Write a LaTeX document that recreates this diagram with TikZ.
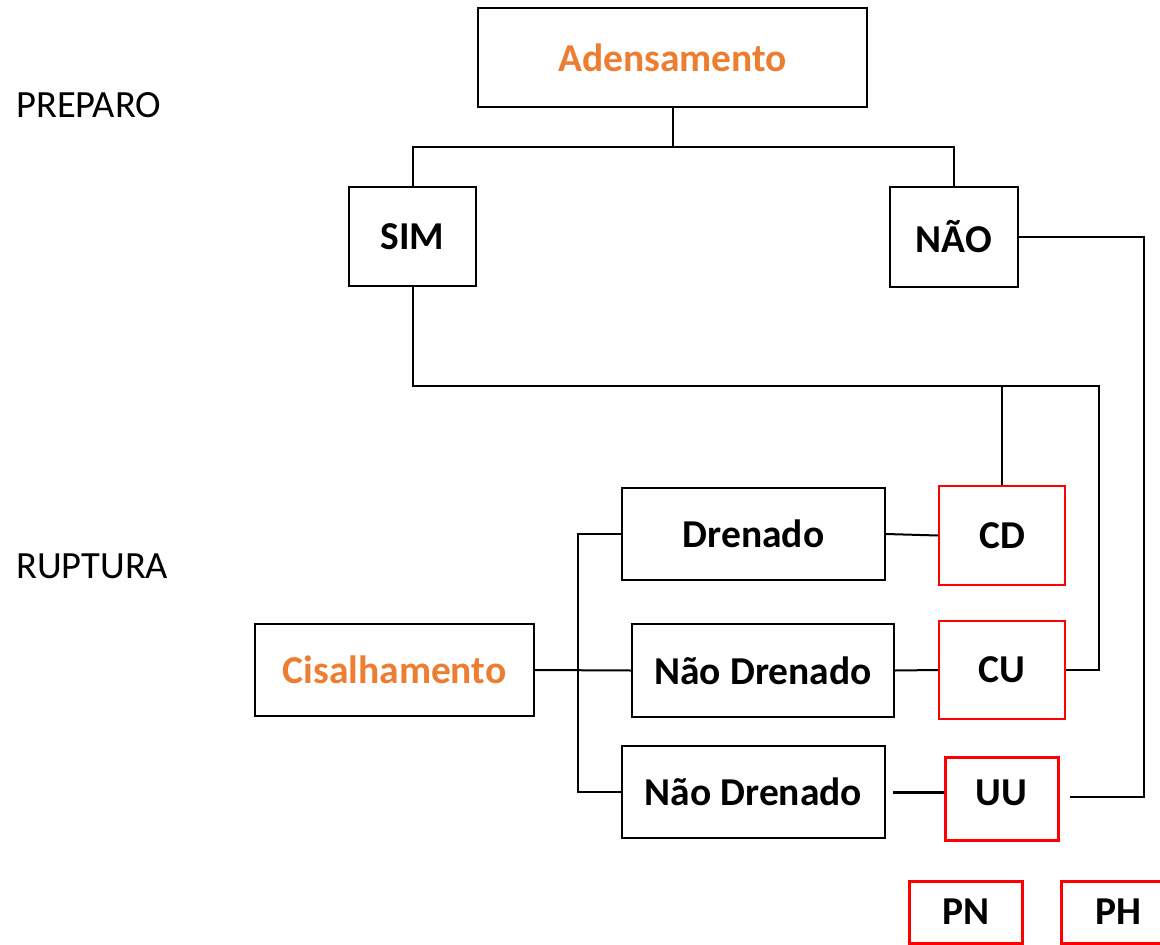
\documentclass[tikz,border=0pt]{standalone}
\usepackage{fontspec}
\setmainfont{Carlito}
\usetikzlibrary{positioning}
\definecolor{laranja}{HTML}{ED7D31}

\begin{document}
\begin{tikzpicture}[x=1pt,y=-1pt,
  caixa/.style={draw,line width=2pt,inner sep=0pt,font=\fontsize{39.5}{46}\selectfont\bfseries},
  ensaio/.style={caixa,draw=red},
  ensaiogrosso/.style={ensaio,line width=3pt},
  rotulo/.style={anchor=west,inner sep=0pt,font=\fontsize{38.5}{46}\selectfont},
  liga/.style={line width=2pt}]
  \useasboundingbox (0,0) rectangle (1160,945);
  % fases
  \node (prep) [rotulo] at (16,105) {PREPARO};
  \node (rupt) [rotulo] at (16,566) {RUPTURA};
  % preparo
  \node (aden) [caixa,minimum width=389pt,minimum height=99pt,text=laranja] at (672.5,57.5) {Adensamento};
  \node (sim)  [caixa,minimum width=127pt,minimum height=99pt] at (412.5,236.5) {SIM};
  \node (nao)  [caixa,minimum width=128pt,minimum height=100pt] at (954,237) {NÃO};
  % ruptura
  \node (cis)  [caixa,minimum width=279pt,minimum height=92pt,text=laranja] at (394.5,670) {Cisalhamento};
  \node (dren) [caixa,minimum width=263pt,minimum height=92pt] at (753.5,534) {Drenado};
  \node (nd1)  [caixa,minimum width=262pt,minimum height=93pt] at (763,670.5) {Não Drenado};
  \node (nd2)  [caixa,minimum width=263pt,minimum height=92pt] at (753.5,792) {Não Drenado};
  % ensaios
  \node (cd) [ensaio,minimum width=126pt,minimum height=99pt] at (1002,535.5) {CD};
  \node (cu) [ensaio,minimum width=126pt,minimum height=98pt] at (1002,670) {CU};
  \node (uu) [ensaiogrosso,minimum width=113pt,minimum height=83pt] at (1001.5,798.5) {\raisebox{12pt}{UU}};
  \node (pn) [ensaiogrosso,minimum width=113pt,minimum height=62pt] at (966,912) {PN};
  \node (ph) [ensaiogrosso,minimum width=160pt,minimum height=62pt,anchor=west] at (1060,912) {PH\hspace*{46pt}};
  % pontos de desvio
  \coordinate (ramo) at (672.5,147);
  \coordinate (canto) at (1099,386);
  \coordinate (desvio) at (1144,237);
  \coordinate (tronco) at (578,670);

  \draw[liga] (aden) -- (ramo);
  \draw[liga] (sim.north) |- (ramo) -| (nao.north);
  \draw[liga] (sim.south) |- (canto) |- (cu.east);
  \draw[liga] (cd.north) -- (cd.north |- canto);
  \draw[liga] (nao.east) -- (desvio) |- ([xshift=10pt,yshift=1.5pt]uu.east);
  \draw[liga] (cis.east) -- (nd1.west);
  \draw[liga] (dren.west) -- (dren.west -| tronco) -- (nd2.west -| tronco) -- (nd2.west);
  \draw[liga] (dren.east) -- (cd.west);
  \draw[liga] (nd1.east) -- (cu.west);
  \draw[line width=3pt] ([xshift=7pt]nd2.east) -- (nd2.east -| uu.west);
\end{tikzpicture}
\end{document}
